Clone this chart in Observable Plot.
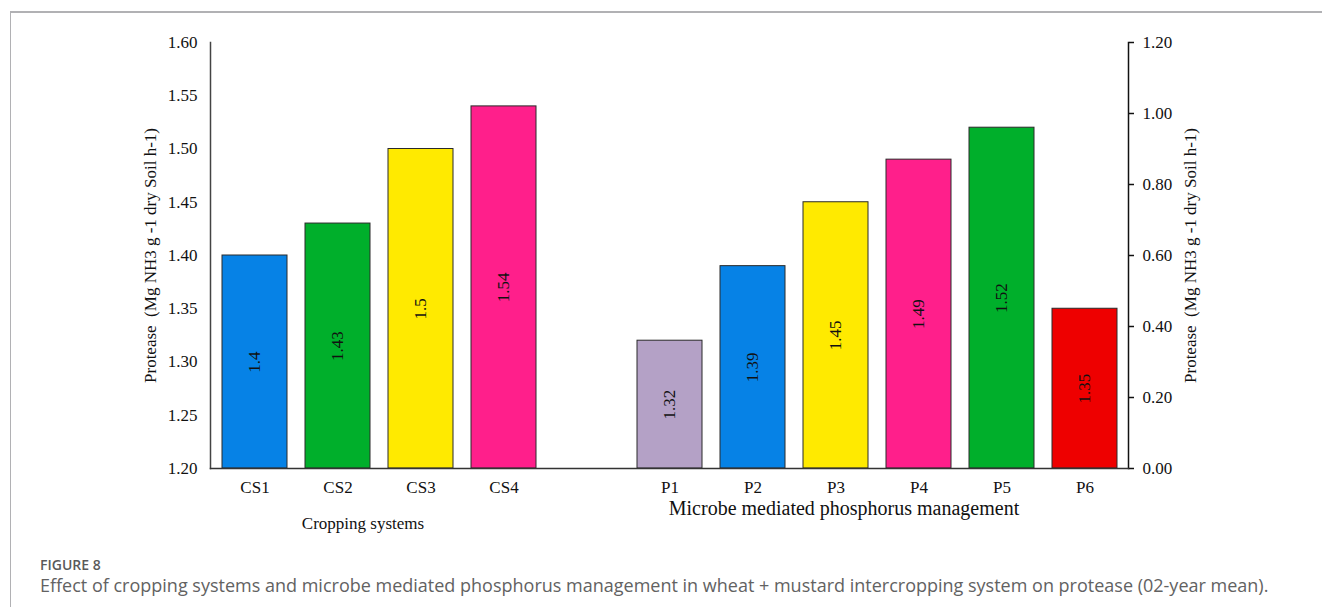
<!DOCTYPE html>
<html>
<head>
<meta charset="utf-8">
<script src="https://cdn.jsdelivr.net/npm/d3@7"></script>
<script src="https://cdn.jsdelivr.net/npm/@observablehq/plot@0.6"></script>
<style>
  html, body { margin: 0; padding: 0; background: #fff; }
  #wrap { position: relative; width: 1322px; height: 607px; overflow: hidden; }
  #border { position: absolute; left: 10px; top: 11px; right: 0; bottom: 0;
            border-top: 2px solid #b1b1b4; border-left: 1.5px solid #b1b1b4; }
  #chart { position: absolute; left: 0; top: 0; }
  .fig-no { position: absolute; left: 40px; top: 555px; font: 600 14px "Open Sans", sans-serif; color: #5a5a5a; }
  .fig-cap { position: absolute; left: 40px; top: 573px; font: 18px "Open Sans", sans-serif; color: #626262; white-space: nowrap; }
</style>
</head>
<body>
<div id="wrap">
  <div id="border"></div>
  <div id="chart"></div>
  <div class="fig-no">FIGURE 8</div>
  <div class="fig-cap">Effect of cropping systems and microbe mediated phosphorus management in wheat + mustard intercropping system on protease (02-year mean).</div>
</div>
<script>
// Cropping systems (left group)
const croppingSystems = ["CS1", "CS2", "CS3", "CS4"];
const croppingValues = [1.40, 1.43, 1.50, 1.54];
const croppingColors = ["#0682e6", "#00af2b", "#ffea00", "#ff1f8b"];

// Microbe mediated phosphorus management (right group)
const phosphorusTreatments = ["P1", "P2", "P3", "P4", "P5", "P6"];
const phosphorusValues = [1.32, 1.39, 1.45, 1.49, 1.52, 1.35];
const phosphorusColors = ["#b4a1c6", "#0682e6", "#ffea00", "#ff1f8b", "#00af2b", "#ee0000"];

// Empty slot separating the two groups
const spacer = "·";
const xDomain = [...croppingSystems, spacer, ...phosphorusTreatments];

// Axis ticks
const leftTicks = [1.20, 1.25, 1.30, 1.35, 1.40, 1.45, 1.50, 1.55, 1.60];
const rightTicks = [0.00, 0.20, 0.40, 0.60, 0.80, 1.00, 1.20];
const yMin = 1.20, yMax = 1.60;
const rightMax = 1.20;

const axisTitle = "Protease  (Mg NH3 g -1 dry Soil h-1)";

const bars = [
  ...croppingSystems.map((k, i) => ({label: k, value: croppingValues[i], color: croppingColors[i]})),
  ...phosphorusTreatments.map((k, i) => ({label: k, value: phosphorusValues[i], color: phosphorusColors[i]}))
];

// secondary axis values expressed in the primary scale's units
const toPrimary = v => yMin + v * (yMax - yMin) / rightMax;
const toSecondary = d => ((d - yMin) * rightMax / (yMax - yMin));

const chart = Plot.plot({
  width: 1322,
  height: 545,
  marginLeft: 210,
  marginRight: 194,
  marginTop: 42,
  marginBottom: 77,
  style: {fontFamily: "'Liberation Serif', 'Times New Roman', serif", fontSize: "17px", color: "#111", background: "transparent"},
  x: {domain: xDomain, paddingInner: 0.22, paddingOuter: 0.11, axis: null},
  y: {domain: [yMin, yMax], axis: null},
  marks: [
    Plot.barY(bars, {x: "label", y1: yMin, y2: "value", fill: "color", stroke: "#2a2a2a", strokeWidth: 1}),
    Plot.text(bars, {x: "label", y: d => (yMin + d.value) / 2, text: d => String(d.value), rotate: -90, fontSize: 17, fill: "#111"}),
    Plot.axisY(leftTicks, {anchor: "left", tickSize: 0, tickPadding: 13, tickFormat: d => d.toFixed(2), label: null}),
    Plot.axisY(rightTicks.map(toPrimary), {anchor: "right", tickSize: 5, tickPadding: 9, tickFormat: d => toSecondary(d).toFixed(2), stroke: "#111", strokeWidth: 1.5, label: null}),
    Plot.axisX({anchor: "bottom", tickSize: 0, tickPadding: 12, tickFormat: d => d === spacer ? "" : d, label: null}),
    Plot.frame({anchor: "left", stroke: "#444", strokeWidth: 1.5}),
    Plot.frame({anchor: "right", stroke: "#111", strokeWidth: 1.5}),
    Plot.frame({anchor: "bottom", stroke: "#333", strokeWidth: 1.5}),
    Plot.text([axisTitle], {frameAnchor: "left", dx: -60, rotate: -90, textAnchor: "middle", fontSize: 17}),
    Plot.text([axisTitle], {frameAnchor: "right", dx: 62, rotate: -90, textAnchor: "middle", fontSize: 17}),
    Plot.text(["Cropping systems"], {x: () => "CS2", frameAnchor: "bottom", dx: 25, dy: 60, fontSize: 17}),
    Plot.text(["Microbe mediated phosphorus management"], {x: () => "P3", frameAnchor: "bottom", dx: 8, dy: 46, fontSize: 20})
  ]
});
document.getElementById("chart").appendChild(chart);
</script>
</body>
</html>
